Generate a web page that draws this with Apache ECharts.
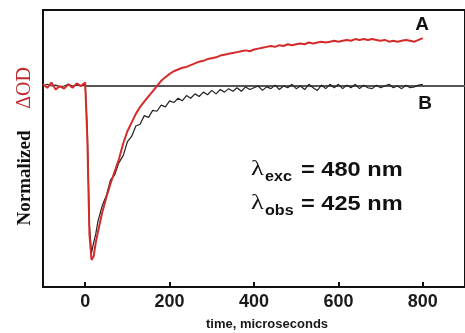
<!DOCTYPE html>
<html>
<head>
<meta charset="utf-8">
<script src="https://cdn.jsdelivr.net/npm/echarts@6/dist/echarts.min.js"></script>
<style>
html,body{margin:0;padding:0;background:#fff;}
#c{width:465px;height:333px;}
</style>
</head>
<body>
<div id="c"></div>
<script>
// time, microseconds
var time = [-100,-90,-80,-70,-60,-50,-40,-30,-20,-10,0,
  5,10,15,20,25,30,
  40,50,60,70,80,90,100,110,120,130,140,150,160,170,180,190,200,
  210,220,230,240,250,260,270,280,290,300,310,320,330,340,350,360,370,380,390,400,
  410,420,430,440,450,460,470,480,490,500,510,520,530,540,550,560,570,580,590,600,
  610,620,630,640,650,660,670,680,690,700,710,720,730,740,750,760,770,780,790,800];
// trace A (red)
var traceA = [0.01,-0.01,0.02,-0.02,0.0,-0.015,0.01,-0.01,0.015,0.0,0.02,
  -0.3,-0.85,-1.0,-0.98,-0.9,-0.84,
  -0.73,-0.64,-0.56,-0.49,-0.42,-0.33,-0.26,-0.21,-0.16,-0.12,-0.09,-0.06,-0.03,0.0,0.03,0.05,0.07,
  0.085,0.095,0.105,0.11,0.12,0.13,0.14,0.145,0.155,0.16,0.165,0.175,0.18,0.185,0.19,0.195,0.2,0.205,0.2,0.21,
  0.215,0.22,0.225,0.23,0.225,0.235,0.23,0.24,0.235,0.24,0.245,0.24,0.25,0.245,0.25,0.255,0.25,0.255,0.26,0.255,
  0.26,0.265,0.26,0.27,0.265,0.27,0.265,0.27,0.265,0.26,0.265,0.255,0.26,0.255,0.26,0.265,0.26,0.255,0.265,0.275];
// trace B (black)
var traceB = [0.0,0.01,0.0,0.005,-0.005,0.0,0.01,0.0,0.005,0.0,0.005,
  -0.25,-0.8,-0.96,-0.9,-0.85,-0.78,
  -0.69,-0.63,-0.54,-0.51,-0.44,-0.4,-0.32,-0.29,-0.23,-0.22,-0.17,-0.18,-0.14,-0.145,-0.11,-0.12,-0.085,
  -0.095,-0.07,-0.085,-0.055,-0.07,-0.045,-0.06,-0.035,-0.05,-0.025,-0.045,-0.02,-0.035,-0.015,-0.03,-0.01,-0.03,-0.005,-0.02,-0.01,
  0.0,-0.025,-0.005,-0.015,0.005,-0.02,0.0,-0.01,0.01,-0.015,0.0,-0.02,0.01,-0.01,-0.025,0.005,-0.015,0.01,-0.01,0.01,
  -0.015,0.005,-0.01,0.01,-0.015,0.005,-0.01,-0.015,0.005,-0.01,0.0,0.01,-0.01,0.0,-0.015,0.005,-0.01,-0.005,0.005,0.01];
var xTicks = [0,200,400,600,800];
var baseline = [[0,0],[900,0]];

function pairs(xs, ys){ return xs.map(function(x,i){ return [x, ys[i]]; }); }

var SANS = '"Liberation Sans", Arial, sans-serif';
var SERIF = '"Liberation Serif", "Times New Roman", serif';
var chart = echarts.init(document.getElementById('c'), null, {renderer:'canvas'});
chart.setOption({
  animation:false,
  backgroundColor:'#fff',
  grid:{left:43, top:10, right:-10, bottom:46, show:true, borderColor:'#111', borderWidth:2, backgroundColor:'transparent'},
  xAxis:{
    type:'value', min:-100, max:900,
    axisLine:{show:true, onZero:false, lineStyle:{color:'#111', width:2}},
    axisTick:{show:true, inside:true, length:5, lineStyle:{color:'#111', width:2}, customValues:xTicks},
    axisLabel:{show:true, customValues:xTicks, color:'#1a1a1a', fontFamily:'Liberation Sans, Arial, sans-serif', fontWeight:'bold', fontSize:18, margin:6},
    splitLine:{show:false}
  },
  yAxis:{
    type:'value', min:-1.155, max:0.437,
    axisLine:{show:true, onZero:false, lineStyle:{color:'#111', width:2}},
    axisTick:{show:false}, axisLabel:{show:false}, splitLine:{show:false}
  },
  series:[
    {type:'line', data:baseline, symbol:'none', lineStyle:{color:'#555', width:2}, z:1},
    {type:'line', data:pairs(time, traceB), symbol:'none', lineStyle:{color:'#222', width:1.2}, z:2},
    {type:'line', data:pairs(time, traceA), symbol:'none', lineStyle:{color:'#d42a2a', width:2}, z:3}
  ],
  graphic:[
    {type:'text', x:422, y:25, style:{text:'A', fill:'#111', font:'bold 19px ' + SANS, align:'center', verticalAlign:'middle'}},
    {type:'text', x:425, y:104, style:{text:'B', fill:'#111', font:'bold 19px ' + SANS, align:'center', verticalAlign:'middle'}},
    {type:'text', x:251, y:169, scaleX:1.2, style:{text:'λ', fill:'#111', font:'22px ' + SERIF, align:'left', verticalAlign:'middle'}},
    {type:'text', x:265, y:177, scaleX:1.15, style:{text:'exc', fill:'#111', font:'bold 14px ' + SANS, align:'left', verticalAlign:'middle'}},
    {type:'text', x:301, y:170, scaleX:1.18, style:{text:'= 480 nm', fill:'#111', font:'bold 20px ' + SANS, align:'left', verticalAlign:'middle'}},
    {type:'text', x:251, y:203, scaleX:1.2, style:{text:'λ', fill:'#111', font:'22px ' + SERIF, align:'left', verticalAlign:'middle'}},
    {type:'text', x:265, y:211, scaleX:1.15, style:{text:'obs', fill:'#111', font:'bold 14px ' + SANS, align:'left', verticalAlign:'middle'}},
    {type:'text', x:301, y:204, scaleX:1.18, style:{text:'= 425 nm', fill:'#111', font:'bold 20px ' + SANS, align:'left', verticalAlign:'middle'}},
    {type:'text', x:25, y:178, rotation:Math.PI/2, style:{text:'Normalized', fill:'#111', font:'bold 19px ' + SERIF, align:'center', verticalAlign:'middle'}},
    {type:'text', x:25, y:88, rotation:Math.PI/2, style:{text:'ΔOD', fill:'#c0282d', font:'20px ' + SERIF, align:'center', verticalAlign:'middle'}},
    {type:'text', x:267, y:324, style:{text:'time, microseconds', fill:'#1a1a1a', font:'bold 13px ' + SANS, align:'center', verticalAlign:'middle'}}
  ]
});
</script>
</body>
</html>
